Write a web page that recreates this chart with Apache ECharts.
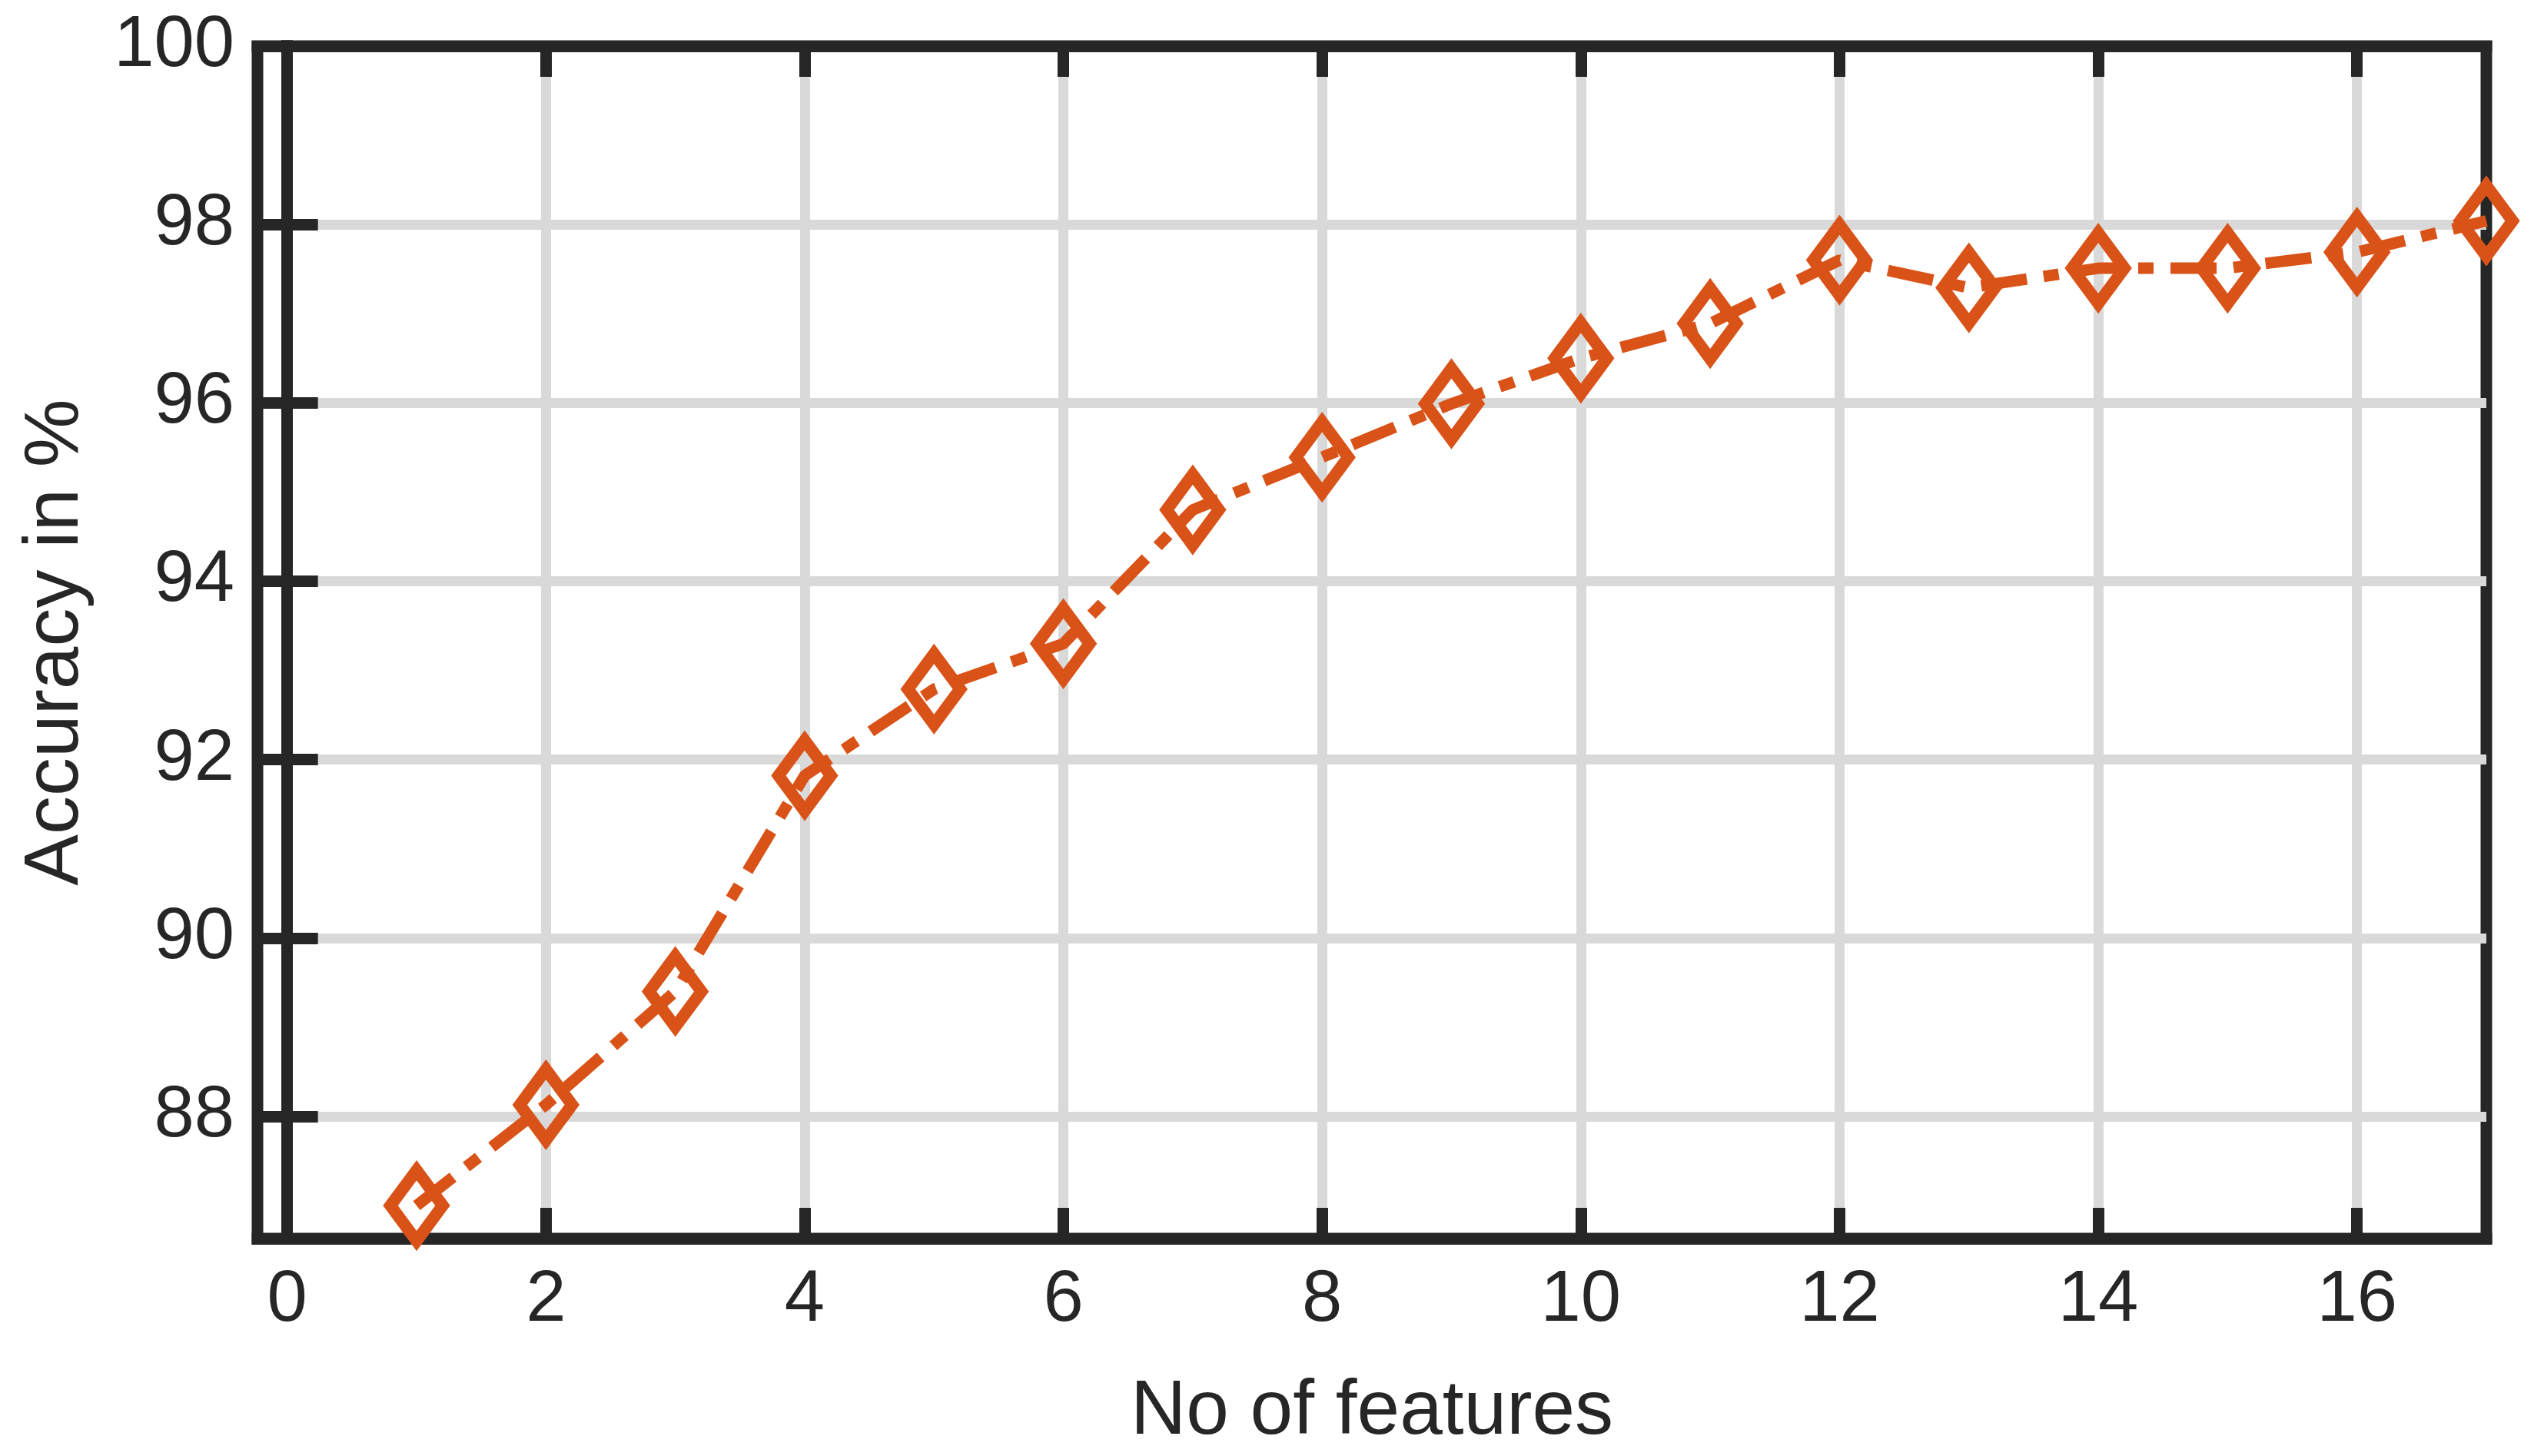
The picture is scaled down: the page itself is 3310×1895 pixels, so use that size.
<!DOCTYPE html>
<html>
<head>
<meta charset="utf-8">
<title>Accuracy vs number of features</title>
<script src="https://cdn.jsdelivr.net/npm/echarts@6/dist/echarts.min.js"></script>
<style>
	html, body { margin:0; padding:0; background:#fff; }
	#chart { width:3310px; height:1895px; }
</style>
</head>
<body>
<div id="chart"></div>
<script>
// data
var featureCounts = [1, 2, 3, 4, 5, 6, 7, 8, 9, 10, 11, 12, 13, 14, 15, 16, 17];
var accuracyValues = [87.0, 88.13, 89.4, 91.82, 92.79, 93.3, 94.8, 95.39, 95.99, 96.5, 96.89, 97.6, 97.29, 97.51, 97.51, 97.69, 98.04];

var xTickValues = [0, 2, 4, 6, 8, 10, 12, 14, 16];
var yTickValues = [88, 90, 92, 94, 96, 98, 100];
var xRange = [-0.23, 17];
var yRange = [86.63, 100];

var xTitle = 'No of features';
var yTitle = 'Accuracy in %';

var inkColor = '#262626';
var gridColor = '#d9d9d9';
var lineColor = '#d95319';
var fontName = '"Liberation Sans", Arial, Helvetica, sans-serif';

var seriesData = [];
for( var i = 0; i < featureCounts.length; i++ ){
	seriesData.push( [featureCounts[i], accuracyValues[i]] );
}

// one axis = frame line + inward ticks (labels only on bottom / left)
var frameAxis = function(position, range, ticks, withLabels){
	return {
		type:'value',
		position:position,
		min:range[0],
		max:range[1],
		z:1,
		axisLine:{ show:true, lineStyle:{ color:inkColor, width:15, cap:'square' } },
		axisTick:{ show:true, inside:true, length:40, customValues:ticks, lineStyle:{ color:inkColor, width:15 } },
		axisLabel:{
			show:withLabels,
			customValues:ticks,
			color:inkColor,
			fontSize:94,
			fontFamily:fontName,
			margin:position === 'bottom' ? 34 : 30
		},
		splitLine:{ show:false }
	};
};

// hidden axis that only draws the grid lines, kept below the frame
var gridAxis = function(position, range, ticks){
	return {
		type:'value',
		position:position,
		min:range[0],
		max:range[1],
		z:0,
		axisLine:{ show:false },
		axisTick:{ show:false, customValues:ticks },
		axisLabel:{ show:false, customValues:ticks },
		splitLine:{ show:true, lineStyle:{ color:gridColor, width:13 } }
	};
};

var xBottom = frameAxis( 'bottom', xRange, xTickValues, true );
xBottom.name = xTitle;
xBottom.nameLocation = 'middle';
xBottom.nameGap = 176;
xBottom.nameTextStyle = { color:inkColor, fontSize:100, fontFamily:fontName };

var yLeft = frameAxis( 'left', yRange, yTickValues, true );
yLeft.name = yTitle;
yLeft.nameLocation = 'middle';
yLeft.nameGap = 212;
yLeft.nameTextStyle = { color:inkColor, fontSize:100, fontFamily:fontName };

var chart = echarts.init( document.getElementById( 'chart' ), null, { renderer:'canvas' } );

chart.setOption( {
	backgroundColor:'#ffffff',
	animation:false,
	grid:{
		left:335,
		right:75,
		top:60,
		bottom:283,
		show:true,
		backgroundColor:'transparent',
		borderColor:inkColor,
		borderWidth:15
	},
	xAxis:[
		xBottom,
		frameAxis( 'top', xRange, xTickValues, false ),
		gridAxis( 'bottom', xRange, xTickValues )
	],
	yAxis:[
		yLeft,
		frameAxis( 'right', yRange, yTickValues, false ),
		gridAxis( 'left', yRange, yTickValues )
	],
	series:[
		{
			type:'line',
			xAxisIndex:0,
			yAxisIndex:0,
			z:3,
			data:seriesData,
			symbol:'diamond',
			symbolSize:[68, 92],
			showAllSymbol:true,
			clip:false,
			lineStyle:{ color:lineColor, width:15, type:[60, 22, 20, 22], cap:'butt' },
			itemStyle:{ color:'rgba(0,0,0,0)', borderColor:lineColor, borderWidth:16 }
		}
	]
} );
</script>
</body>
</html>
